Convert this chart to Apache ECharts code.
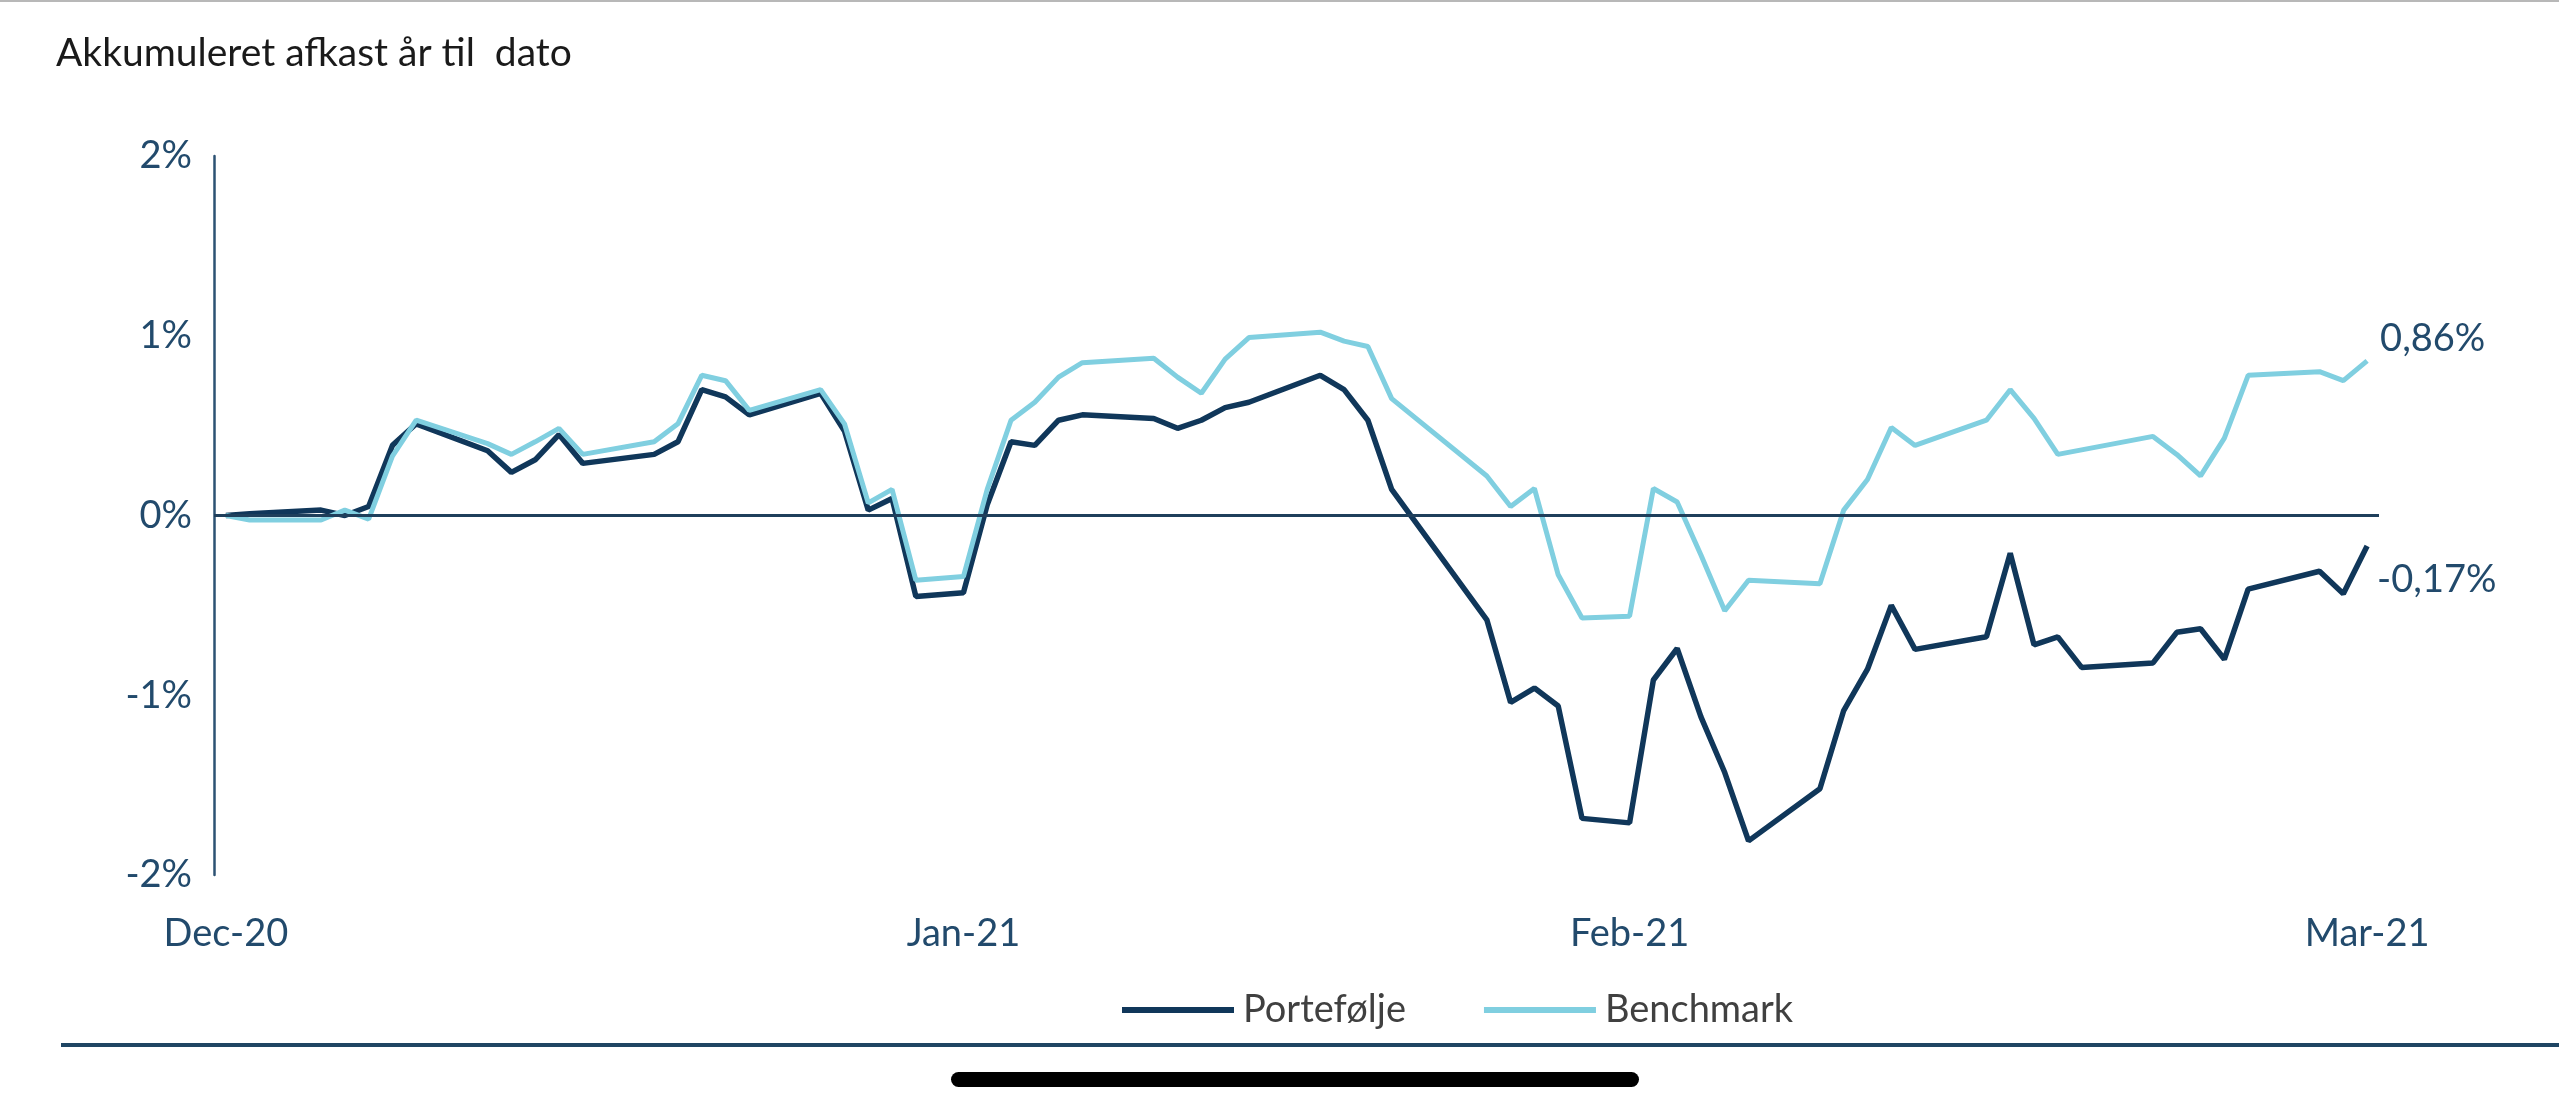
<!DOCTYPE html>
<html>
<head>
<meta charset="utf-8">
<title>Akkumuleret afkast år til dato</title>
<script src="https://cdn.jsdelivr.net/npm/echarts@6.0.0/dist/echarts.min.js"></script>
<style>
	html, body { margin: 0; padding: 0; background: #fff; }
	#chart { width: 2559px; height: 1110px; }
</style>
</head>
<body>
<div id="chart"></div>
<script>
var dates = [
	'2020-12-31', '2021-01-01', '2021-01-04', '2021-01-05', '2021-01-06', '2021-01-07', '2021-01-08',
	'2021-01-11', '2021-01-12', '2021-01-13', '2021-01-14', '2021-01-15',
	'2021-01-18', '2021-01-19', '2021-01-20', '2021-01-21', '2021-01-22',
	'2021-01-25', '2021-01-26', '2021-01-27', '2021-01-28', '2021-01-29', '2021-01-31',
	'2021-02-01', '2021-02-02', '2021-02-03', '2021-02-04', '2021-02-05',
	'2021-02-08', '2021-02-09', '2021-02-10', '2021-02-11', '2021-02-12',
	'2021-02-15', '2021-02-16', '2021-02-17', '2021-02-18',
	'2021-02-22', '2021-02-23', '2021-02-24', '2021-02-25', '2021-02-26', '2021-02-28',
	'2021-03-01', '2021-03-02', '2021-03-03', '2021-03-04', '2021-03-05',
	'2021-03-08', '2021-03-09', '2021-03-10', '2021-03-11', '2021-03-12',
	'2021-03-15', '2021-03-16', '2021-03-17', '2021-03-18', '2021-03-19',
	'2021-03-22', '2021-03-23', '2021-03-24', '2021-03-25', '2021-03-26',
	'2021-03-29', '2021-03-30', '2021-03-31'
];

// cumulative return in %
var portfolio = [
	0, 0.01, 0.03, 0.00, 0.05, 0.39, 0.51,
	0.36, 0.24, 0.31, 0.45, 0.29,
	0.34, 0.41, 0.70, 0.66, 0.56,
	0.68, 0.47, 0.03, 0.095, -0.45, -0.43,
	0.06, 0.41, 0.39, 0.53, 0.56,
	0.54, 0.485, 0.53, 0.60, 0.63,
	0.78, 0.70, 0.53, 0.145,
	-0.58, -1.04, -0.96, -1.06, -1.685, -1.71,
	-0.915, -0.74, -1.12, -1.43, -1.81,
	-1.52, -1.085, -0.855, -0.50, -0.745,
	-0.675, -0.21, -0.72, -0.675, -0.845,
	-0.82, -0.65, -0.63, -0.80, -0.41,
	-0.31, -0.435, -0.17
];

var benchmark = [
	0, -0.025, -0.025, 0.03, -0.02, 0.33, 0.53,
	0.40, 0.34, 0.41, 0.485, 0.34,
	0.41, 0.51, 0.78, 0.75, 0.585,
	0.70, 0.51, 0.07, 0.145, -0.36, -0.34,
	0.145, 0.53, 0.63, 0.77, 0.85,
	0.875, 0.77, 0.68, 0.87, 0.99,
	1.02, 0.97, 0.94, 0.65,
	0.22, 0.05, 0.15, -0.33, -0.57, -0.56,
	0.15, 0.075, -0.22, -0.53, -0.36,
	-0.38, 0.03, 0.20, 0.49, 0.39,
	0.53, 0.70, 0.54, 0.34, 0.365,
	0.44, 0.34, 0.22, 0.43, 0.78,
	0.80, 0.75, 0.86
];

var tickDates = ['2020-12-31', '2021-01-31', '2021-02-28', '2021-03-31'];
var tickLabels = ['Dec-20', 'Jan-21', 'Feb-21', 'Mar-21'];
var yTicks = [-2, -1, 0, 1, 2];

var navy = '#10375a';
var sky = '#80cfe0';
var axisBlue = '#224a6c';
var font = 'Lato, "Open Sans", sans-serif';

// one category per calendar day, like the excel date axis
var days = [];
var t0 = Date.UTC(2020, 11, 31);
var t1 = Date.UTC(2021, 2, 31);
for (var t = t0; t <= t1; t += 86400000) {
	days.push(new Date(t).toISOString().slice(0, 10));
}

function onDays(values) {
	var out = [];
	for (var i = 0; i < days.length; i++) {
		var k = dates.indexOf(days[i]);
		out.push(k == -1 ? null : values[k]);
	}
	return out;
}

function pct(v) {
	return v.toFixed(2).replace('.', ',') + '%';
}

var myChart = echarts.init(document.getElementById('chart'));

var option = {
	animation: false,
	title: {
		text: 'Akkumuleret afkast år til  dato',
		left: 51,
		top: 29,
		textStyle: {
			fontFamily: font,
			fontSize: 39,
			fontWeight: 'normal',
			color: '#1a1a1a'
		}
	},
	legend: {
		left: 1117,
		top: 986,
		icon: 'rect',
		itemWidth: 112,
		itemHeight: 6,
		itemGap: 78,
		textStyle: {
			fontFamily: font,
			fontSize: 38,
			color: '#404040',
			padding: [0, 0, 0, 4]
		},
		data: ['Portefølje', 'Benchmark']
	},
	grid: {
		left: 214,
		right: 180,
		top: 156,
		bottom: 235
	},
	xAxis: {
		type: 'category',
		data: days,
		boundaryGap: true,
		axisLine: { show: false },
		axisTick: { show: false },
		splitLine: { show: false },
		axisLabel: {
			interval: function(index, value) {
				return tickDates.indexOf(value) != -1;
			},
			formatter: function(value) {
				return tickLabels[tickDates.indexOf(value)];
			},
			margin: 40,
			fontFamily: font,
			fontSize: 38,
			color: axisBlue
		}
	},
	yAxis: {
		type: 'value',
		min: yTicks[0],
		max: yTicks[yTicks.length - 1],
		interval: 1,
		axisLine: {
			show: true,
			lineStyle: { color: '#2c5273', width: 2.5 }
		},
		axisTick: { show: false },
		splitLine: { show: false },
		axisLabel: {
			margin: 22,
			fontFamily: font,
			fontSize: 38,
			color: axisBlue,
			formatter: function(v) {
				return v + '%';
			}
		}
	},
	series: [
		{
			name: 'Portefølje',
			type: 'line',
			data: onDays(portfolio),
			connectNulls: true,
			symbol: 'none',
			color: navy,
			lineStyle: { color: navy, width: 5.5 },
			endLabel: {
				show: true,
				offset: [2, 34],
				fontFamily: font,
				fontSize: 38,
				color: axisBlue,
				formatter: function(p) { return pct(p.value); }
			},
			markLine: {
				silent: true,
				symbol: 'none',
				label: { show: false },
				lineStyle: { color: '#1f3f5b', width: 3, type: 'solid' },
				data: [{ yAxis: 0 }]
			}
		},
		{
			name: 'Benchmark',
			type: 'line',
			data: onDays(benchmark),
			connectNulls: true,
			symbol: 'none',
			color: sky,
			lineStyle: { color: sky, width: 5 },
			endLabel: {
				show: true,
				offset: [5, -22],
				fontFamily: font,
				fontSize: 38,
				color: axisBlue,
				formatter: function(p) { return pct(p.value); }
			}
		}
	],
	graphic: [
		{
			type: 'line',
			shape: { x1: 0, y1: 1, x2: 2559, y2: 1 },
			style: { stroke: '#b8b8b8', lineWidth: 2 }
		},
		{
			type: 'line',
			shape: { x1: 61, y1: 1045, x2: 2559, y2: 1045 },
			style: { stroke: '#1f4563', lineWidth: 4 }
		},
		{
			// phone home bar from the screenshot
			type: 'rect',
			shape: { x: 951, y: 1072, width: 688, height: 15, r: 7.5 },
			style: { fill: '#000' }
		}
	]
};

myChart.setOption(option);
</script>
</body>
</html>
